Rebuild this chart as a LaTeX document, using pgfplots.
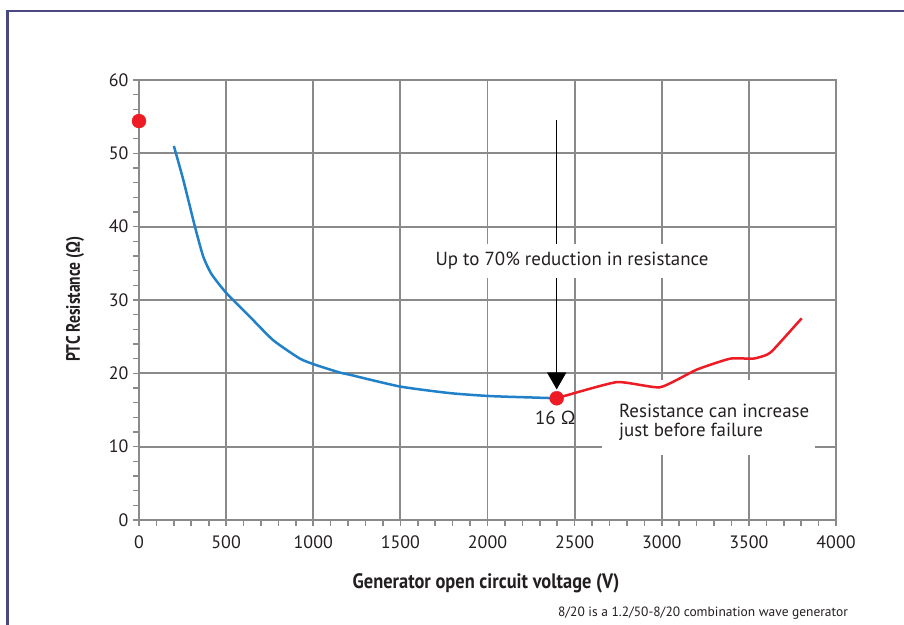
\documentclass[border=0pt]{standalone}
\usepackage{pgfplots}
\pgfplotsset{compat=1.18}
\usepackage{fontspec}
\setmainfont{PT Sans}
\newfontfamily\condfont[FakeStretch=0.8]{PT Sans}
\newfontfamily\condfontx[FakeStretch=0.88]{PT Sans}
\usetikzlibrary{arrows.meta}
\definecolor{gridgray}{RGB}{138,138,138}
\definecolor{curveblue}{RGB}{32,128,200}
\definecolor{curvered}{RGB}{237,28,36}
\definecolor{framepurple}{RGB}{74,72,128}
\definecolor{txt}{RGB}{35,31,32}
\begin{document}
\begin{tikzpicture}
\path[use as bounding box] (0,0) rectangle (904bp,625bp);
\draw[framepurple, line width=2.6bp] (7.5bp,0) -- (7.5bp,614bp) -- (904bp,614bp);
\begin{axis}[
  at={(139bp,105bp)}, anchor=south west,
  scale only axis, width=697bp, height=440bp,
  xmin=0, xmax=4000, ymin=0, ymax=60,
  xtick={0,500,...,4000}, ytick={0,10,...,60},
  minor x tick num=4, minor y tick num=4,
  grid=major,
  major grid style={gridgray, line width=1.8bp},
  axis line style={gridgray, line width=1.8bp},
  tick style={gridgray, line width=1.6bp},
  major tick length=6bp, minor tick length=6bp,
  tick align=outside,
  xtick pos=bottom, ytick pos=left,
  clip=false,
  /pgf/number format/assume math mode=true,
  /pgf/number format/set thousands separator={},
  tick label style={font=\fontsize{18}{20}\selectfont, text=txt},
  yticklabel style={xshift=-1bp},
  xticklabel style={yshift=-6bp},
]
% annotation arrow
\draw[black, line width=1.6bp, -{Triangle[width=19bp,length=17bp]}] (axis cs:2397,54.5) -- (axis cs:2397,17.8);
% white boxes behind annotation texts
\fill[white] (axis cs:1613,33.0) rectangle (axis cs:3363,37.6);
\fill[white] (axis cs:2657,8.9) rectangle (axis cs:3880,19.1);
\node[font=\fontsize{19}{21}\selectfont, text=txt] at (axis cs:2485,35.4) {Up to 70\% reduction in resistance};
\node[font=\fontsize{19}{21}\selectfont, text=txt, anchor=west, align=left] at (axis cs:2735,13.3) {Resistance can increase\\[-2bp]just before failure};
\node[font=\fontsize{19}{21}\selectfont, text=txt] at (axis cs:2390,13.9) {16 Ω};
\addplot[curveblue, line width=2.5bp, smooth, tension=0.35] coordinates {
(200,51.0) (254,46.4) (321,40.0) (369,35.9) (417,33.5) (503,30.9) (637,27.7) (771,24.5) (924,22.0) (1020,21.1) (1153,20.1) (1211,19.8) (1498,18.2) (1785,17.3) (2014,16.9) (2263,16.7) (2397,16.6)
};
\addplot[curvered, line width=2.5bp, smooth, tension=0.3] coordinates {
(2397,16.6) (2741,18.8) (2990,18.1) (3200,20.5) (3392,22.0) (3525,22.0) (3600,22.5) (3640,23.2) (3803,27.5)
};
\addplot[only marks, mark=*, mark size=7bp, curvered, mark options={draw=curvered, fill=curvered}] coordinates {(0,54.4) (2397,16.6)};
\end{axis}
\node[rotate=90, text=txt, font=\condfont\bfseries\fontsize{19.5}{21}\selectfont] at (75bp,326bp) {PTC Resistance (Ω)};
\node[text=txt, font=\condfontx\bfseries\fontsize{21}{23}\selectfont] at (486bp,42bp) {Generator open circuit voltage (V)};
\node[font=\fontsize{13.5}{15}\selectfont, text=txt] at (703bp,12bp) {8/20 is a 1.2/50-8/20 combination wave generator};
\end{tikzpicture}
\end{document}
